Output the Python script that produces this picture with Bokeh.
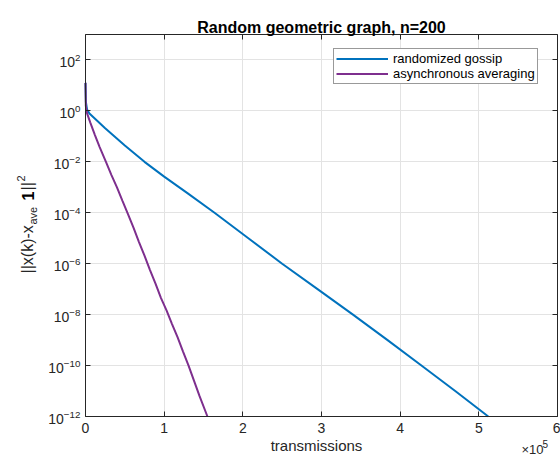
import numpy as np
from bokeh.plotting import figure
from bokeh.models import (Range1d, FixedTicker, LogAxis, LinearAxis, Label, Grid,
                          Legend, LegendItem, ColumnDataSource, CustomJSTickFormatter)
from bokeh.embed import file_html
from bokeh.resources import INLINE

# Convergence of ||x(k) - x_ave 1||^2 versus number of transmissions.
# Transmissions are in units of 1e5, errors are stored as log10 values.
gossip_tx = [0.0, 0.005, 0.02, 0.05, 0.25, 0.5, 0.75, 1.0, 1.3, 1.64, 2.07, 2.5,
             2.95, 3.4, 3.84, 4.27, 4.7, 5.12]
gossip_log_err = [1.1, 0.35, 0.05, -0.1, -0.68, -1.36, -2.0, -2.58, -3.24, -4.0,
                  -5.0, -6.0, -7.0, -8.0, -9.0, -10.0, -11.0, -12.0]

async_tx = [0.0, 0.004, 0.02, 0.06, 0.12, 0.18, 0.26, 0.33, 0.4, 0.47, 0.54,
            0.61, 0.68, 0.75, 0.82, 0.89, 0.96, 1.03, 1.1, 1.17, 1.24, 1.31,
            1.38, 1.45, 1.55]
async_log_err = [1.1, 0.2, -0.1, -0.45, -0.95, -1.42, -2.0, -2.52, -3.0, -3.53,
                 -4.05, -4.58, -5.15, -5.68, -6.25, -6.78, -7.35, -7.83, -8.37,
                 -8.88, -9.45, -10.0, -10.6, -11.2, -12.0]

x_ticks = [0, 1, 2, 3, 4, 5, 6]
y_ticks = [1e-12, 1e-10, 1e-8, 1e-6, 1e-4, 1e-2, 1e0, 1e2]
x_limits = (0, 6)
y_limits = (1e-12, 1e3)

title_text = "Random geometric graph, n=200"
x_label = "transmissions"
series_names = ["randomized gossip", "asynchronous averaging"]
series_colors = ["#0072BD", "#7E2F8E"]

FONT = "Liberation Sans"
AXIS_COLOR = "#262626"
GRID_COLOR = "#e3e3e3"

# canvas size and the pixel box the axes occupy inside it
W, H = 560, 456
BOX_L, BOX_R, BOX_T, BOX_B = 85, 557, 34, 416

# the frame fills the whole canvas; extend the ranges so the axes box lands
# on the pixel box above
px_per_x = (BOX_R - BOX_L) / (x_limits[1] - x_limits[0])
x0 = x_limits[0] - BOX_L / px_per_x
x1 = x_limits[1] + (W - BOX_R) / px_per_x
ly0, ly1 = np.log10(y_limits[0]), np.log10(y_limits[1])
dec_per_px = (ly1 - ly0) / (BOX_B - BOX_T)
y0 = 10 ** (ly0 - (H - BOX_B) * dec_per_px)
y1 = 10 ** (ly1 + BOX_T * dec_per_px)

p = figure(width=W, height=H, output_backend="svg", toolbar_location=None,
           x_range=Range1d(x0, x1), y_range=Range1d(y0, y1), y_axis_type="log",
           x_axis_location=None, y_axis_location=None, min_border=0)
p.title.visible = False
p.background_fill_color = "white"
p.border_fill_color = "white"
p.outline_line_color = None
p.center = [r for r in p.center if not isinstance(r, Grid)]

# grid lines limited to the axes box
has_cross = "cross_bounds" in Grid.properties()
for dim, ticks, bnds, cross in ((0, x_ticks, x_limits, y_limits),
                                (1, y_ticks, y_limits, x_limits)):
    g = Grid(dimension=dim, ticker=FixedTicker(ticks=ticks, minor_ticks=[]),
             bounds=bnds, grid_line_color=GRID_COLOR, grid_line_width=1)
    if has_cross:
        g.cross_bounds = cross
        p.add_layout(g, "center")
    else:
        if dim == 0:
            p.segment(x0=ticks, x1=ticks, y0=[cross[0]] * len(ticks),
                      y1=[cross[1]] * len(ticks), line_color=GRID_COLOR)
        else:
            p.segment(x0=[cross[0]] * len(ticks), x1=[cross[1]] * len(ticks),
                      y0=ticks, y1=ticks, line_color=GRID_COLOR)

gossip_src = ColumnDataSource(dict(x=gossip_tx, y=10.0 ** np.array(gossip_log_err)))
async_src = ColumnDataSource(dict(x=async_tx, y=10.0 ** np.array(async_log_err)))
r_gossip = p.line("x", "y", source=gossip_src, line_color=series_colors[0], line_width=2)
r_async = p.line("x", "y", source=async_src, line_color=series_colors[1], line_width=2)


def box_axis(cls, side, ticks, loc, bounds, labels=True):
    ax = cls(ticker=FixedTicker(ticks=ticks, minor_ticks=[]), fixed_location=loc,
             bounds=bounds)
    ax.axis_line_color = AXIS_COLOR
    ax.axis_line_width = 1
    ax.major_tick_line_color = AXIS_COLOR
    ax.major_tick_in = 5
    ax.major_tick_out = 0
    ax.minor_tick_line_color = None
    ax.major_label_text_font = FONT
    ax.major_label_text_font_size = "14px"
    ax.major_label_text_color = AXIS_COLOR
    ax.major_label_standoff = 6 if side == "below" else 5
    if not labels:
        ax.formatter = CustomJSTickFormatter(code="return ''")
    p.add_layout(ax, side)
    return ax


box_axis(LinearAxis, "below", x_ticks, y_limits[0], x_limits)
box_axis(LogAxis, "left", y_ticks, x_limits[0], y_limits)
box_axis(LinearAxis, "above", x_ticks, y_limits[1], x_limits, labels=False)
box_axis(LogAxis, "right", y_ticks, x_limits[1], y_limits, labels=False)


def add_text(x, y, text, size, bold=False, align="left", angle=0.0):
    # x, y in canvas pixels measured from the top-left corner
    p.add_layout(Label(x=x, y=H - y, x_units="screen", y_units="screen", text=text,
                       text_font=FONT, text_font_size=f"{size}px",
                       text_font_style="bold" if bold else "normal",
                       text_color="black" if bold else AXIS_COLOR,
                       text_align=align, text_baseline="alphabetic", angle=angle))


add_text((BOX_L + BOX_R) / 2, 27, title_text, 16, bold=True, align="center")
add_text(316, 445, x_label, 15, align="center")
# x10^5 multiplier below the right end of the x axis
add_text(521, 449, "\u00d710", 13)
add_text(542, 443, "5", 10)

# rotated y-axis label: ||x(k)-x_ave 1||^2
rot = np.pi / 2
add_text(27, 273, "||x(k)-x", 16, angle=rot)
add_text(32, 224, "ave", 11, angle=rot)
add_text(27, 200, "1", 16, bold=True, angle=rot)
add_text(27, 190, "||", 16, angle=rot)
add_text(20, 181, "2", 11, angle=rot)

legend = Legend(items=[LegendItem(label=series_names[0], renderers=[r_gossip]),
                       LegendItem(label=series_names[1], renderers=[r_async])],
                location=(333, H - 84))
legend.label_text_font = FONT
legend.label_text_font_size = "13px"
legend.label_text_color = "black"
legend.glyph_width = 52
legend.glyph_height = 15
legend.label_height = 15
legend.label_width = 142
legend.label_standoff = 5
legend.padding = 2
legend.spacing = 0
legend.margin = 0
legend.border_line_color = "#333333"
legend.border_line_width = 1
legend.background_fill_color = "white"
legend.background_fill_alpha = 1
p.add_layout(legend)

open("out.html", "w").write(file_html(p, INLINE))
